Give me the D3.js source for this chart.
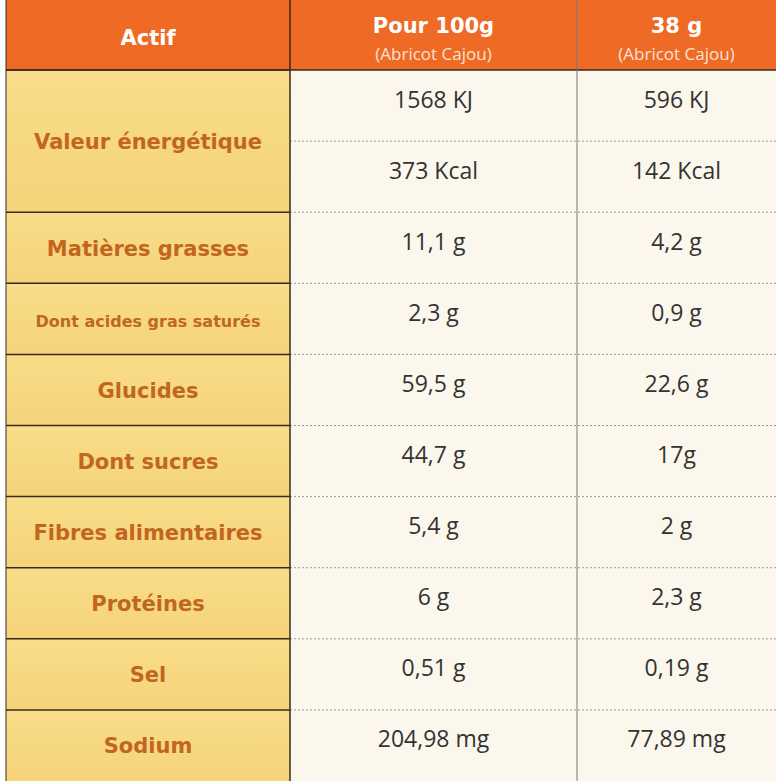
<!DOCTYPE html>
<html><head><meta charset="utf-8">
<script src="https://cdn.jsdelivr.net/npm/d3@7"></script>
<style>body{margin:0;background:#fff}</style>
</head><body>
<svg id="chart" width="780" height="781"></svg>
<script>
const nutrients = ["Valeur énergétique", "Matières grasses", "Dont acides gras saturés", "Glucides", "Dont sucres", "Fibres alimentaires", "Protéines", "Sel", "Sodium"];
const per100 = [["1568 KJ", "373 Kcal"], "11,1 g", "2,3 g", "59,5 g", "44,7 g", "5,4 g", "6 g", "0,51 g", "204,98 mg"];
const per38 = [["596 KJ", "142 Kcal"], "4,2 g", "0,9 g", "22,6 g", "17g", "2 g", "2,3 g", "0,19 g", "77,89 mg"];
const headers = [["Actif", ""], ["Pour 100g", "(Abricot Cajou)"], ["38 g", "(Abricot Cajou)"]];

const svg = d3.select("#chart");
const colEdges = [6, 290, 577, 776];
const y = d3.scaleLinear().domain([0, 10]).range([70, 781]);

// grid defs
const defs = svg.append("defs");
const grad = defs.append("linearGradient").attr("id", "lab").attr("x1", 0).attr("x2", 0).attr("y1", 0).attr("y2", 1);
grad.append("stop").attr("offset", "0%").attr("stop-color", "#f9dd8a");
grad.append("stop").attr("offset", "100%").attr("stop-color", "#f5d37a");

// header
headers.forEach((h, i) => {
  const x0 = colEdges[i], x1 = colEdges[i + 1];
  svg.append("rect").attr("x", x0).attr("y", 0).attr("width", x1 - x0).attr("height", 70).attr("fill", "#ee6a25");
  const cx = (x0 + x1) / 2;
  svg.append("text").attr("x", cx).attr("y", h[1] ? 33 : 45).attr("text-anchor", "middle")
    .attr("font-family", "DejaVu Sans").attr("font-weight", "bold").attr("font-size", 21).attr("fill", "#fff").text(h[0]);
  if (h[1]) svg.append("text").attr("x", cx).attr("y", 60).attr("text-anchor", "middle")
    .attr("font-family", "Open Sans").attr("font-size", 17).attr("fill", "#fbe3d4").text(h[1]);
});

// rows
let start = 0;
const rows = nutrients.map((n, i) => {
  const span = i === 0 ? 2 : 1;
  const r = {name: n, a: per100[i], b: per38[i], s: start, e: start + span};
  start += span;
  return r;
});

const g = svg.selectAll("g.row").data(rows).enter().append("g").attr("class", "row");
g.append("rect").attr("x", colEdges[0]).attr("y", d => y(d.s)).attr("width", colEdges[1] - colEdges[0])
  .attr("height", d => y(d.e) - y(d.s)).attr("fill", "url(#lab)");
g.append("rect").attr("x", colEdges[1]).attr("y", d => y(d.s)).attr("width", colEdges[3] - colEdges[1])
  .attr("height", d => y(d.e) - y(d.s)).attr("fill", "#fcf7ec");
g.append("text").attr("x", (colEdges[0] + colEdges[1]) / 2).attr("y", d => (y(d.s) + y(d.e)) / 2 + 8)
  .attr("text-anchor", "middle").attr("font-family", "DejaVu Sans").attr("font-weight", "bold")
  .attr("font-size", d => d.name.length > 20 ? 16 : 21).attr("fill", "#c2661f").text(d => d.name);

[["a", 1], ["b", 2]].forEach(([k, c]) => {
  const cx = (colEdges[c] + colEdges[c + 1]) / 2;
  rows.forEach(d => {
    const vals = Array.isArray(d[k]) ? d[k] : [d[k]];
    vals.forEach((v, j) => {
      svg.append("text").attr("x", cx).attr("y", (y(d.s + j) + y(d.s + j + 1)) / 2 + 2)
        .attr("text-anchor", "middle").attr("font-family", "Open Sans").attr("font-size", 23)
        .attr("fill", "#333").text(v);
    });
  });
});

// lines
rows.forEach((d, i) => {
  svg.append("line").attr("x1", colEdges[0]).attr("x2", colEdges[1]).attr("y1", y(d.s)).attr("y2", y(d.s))
    .attr("stroke", "#3a2a18").attr("stroke-width", 1.5);
  for (let t = d.s; t < d.e; t++) {
    if (t === 0) continue;
    svg.append("line").attr("x1", colEdges[1]).attr("x2", colEdges[3]).attr("y1", y(t)).attr("y2", y(t))
      .attr("stroke", "#999").attr("stroke-dasharray", "2,2");
  }
});
svg.append("line").attr("x1", colEdges[0]).attr("x2", colEdges[3]).attr("y1", 70).attr("y2", 70).attr("stroke", "#3a2a18").attr("stroke-width", 1.5);
[colEdges[1], colEdges[2]].forEach((x, i) => {
  svg.append("line").attr("x1", x).attr("x2", x).attr("y1", 0).attr("y2", 781)
    .attr("stroke", i === 0 ? "#3a2a18" : "#777").attr("stroke-width", i === 0 ? 1.5 : 1);
});
svg.append("line").attr("x1", colEdges[0]).attr("x2", colEdges[0]).attr("y1", 0).attr("y2", 781).attr("stroke", "#3a2a18").attr("stroke-width", 1);
</script>
</body></html>
